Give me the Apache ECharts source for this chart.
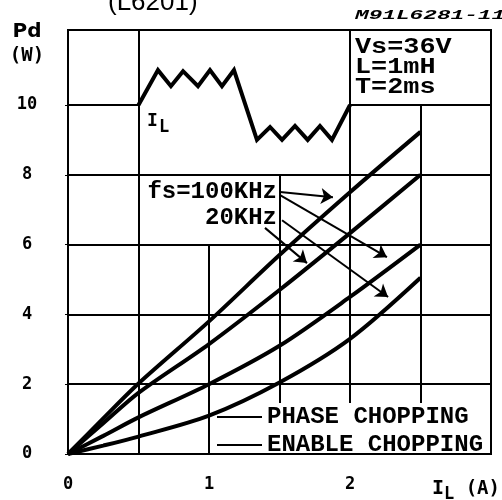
<!DOCTYPE html>
<html>
<head>
<meta charset="utf-8">
<script src="https://cdn.jsdelivr.net/npm/echarts@6/dist/echarts.min.js"></script>
<style>html,body{margin:0;padding:0;background:#fff}#c{width:502px;height:500px}</style>
</head>
<body>
<div id="c"></div>
<script>
// ---- data ----
const xTicks = [0, 1, 2];
const yTicks = [0, 2, 4, 6, 8, 10];
const curveX = [0, 0.25, 0.5, 1.0, 1.5, 2.0, 2.5];
const enable100k = [0, 1.02, 2.02, 3.8, 5.7, 7.5, 9.23];
const enable20k  = [0, 0.88, 1.75, 3.15, 4.7, 6.33, 8.0];
const phase100k  = [0, 0.52, 1.05, 2.0, 3.1, 4.5, 6.0];
const phase20k   = [0, 0.24, 0.5, 1.1, 2.05, 3.3, 5.05];
// inset current waveform (I_L), in axis units
const waveX = [0.5, 0.638, 0.73, 0.816, 0.922, 1.007, 1.092, 1.177, 1.34, 1.433, 1.518, 1.61, 1.70, 1.787, 1.872, 2.0];
const waveY = [10, 11, 10.54, 10.97, 10.54, 11, 10.54, 11, 9, 9.37, 9, 9.4, 9, 9.4, 9, 10];
// partial grid lines: vertical [x, yFrom, yTo], horizontal [y, xFrom, xTo]
const gridV = [[0.5, 0, 12.15], [1.0, 0, 6], [1.5, 1.46, 8], [2.0, 1.46, 12.15], [2.5, 1.46, 10]];
const gridH = [[10, 0, 0.5], [10, 2.0, 3.0], [8, 0, 3], [6, 0, 3], [4, 0, 3], [2, 0, 3]];
// annotation arrows [x0, y0, x1, y1]
const arrows = [[1.504, 7.51, 1.879, 7.36], [1.504, 7.42, 2.262, 5.64], [1.518, 6.70, 2.27, 4.50], [1.397, 6.48, 1.695, 5.47]];
const xMax = 3, yMax = 12.15;

const pairs = (xs, ys) => xs.map((x, i) => [x, ys[i]]);
const chart = echarts.init(document.getElementById('c'), null, {renderer: 'canvas'});
const mono = 'Liberation Mono';
const tickFont = {fontFamily: 'DejaVu Sans Mono', fontWeight: 'bold', fontSize: 17, color: '#000'};

const curveStyle = {color: '#000', width: 4};
function curve(name, ys) {
  return {type: 'line', name, data: pairs(curveX, ys), smooth: 0.3, showSymbol: false, symbol: 'none',
    lineStyle: curveStyle, itemStyle: {color: '#000'}, z: 5, silent: true};
}

chart.setOption({
  animation: false,
  backgroundColor: '#fff',
  title: {text: '(L6201)', left: 103, top: -15, textStyle: {fontFamily: 'Liberation Sans', fontWeight: 'normal', fontSize: 26, color: '#000'}},
  grid: {left: 68, right: 11, top: 30, bottom: 46, show: true, borderColor: '#000', borderWidth: 2, containLabel: false, outerBoundsMode: 'none'},
  legend: {
    data: ['PHASE CHOPPING', 'ENABLE CHOPPING'], orient: 'vertical', left: 217, top: 405,
    icon: 'rect', itemWidth: 45, itemHeight: 2, itemGap: 4, padding: 0, selectedMode: false,
    textStyle: {fontFamily: mono, fontWeight: 'bold', fontSize: 24, lineHeight: 21, color: '#000'}
  },
  xAxis: {
    type: 'value', min: 0, max: xMax,
    axisLine: {show: true, onZero: false, lineStyle: {color: '#000', width: 2}},
    axisTick: {show: false}, splitLine: {show: false},
    axisLabel: {customValues: xTicks, margin: 22, ...tickFont},
    name: '{i|I}{s|L}{a| (A)}', nameLocation: 'end', nameGap: 9,
    nameTextStyle: {align: 'right', verticalAlign: 'top', padding: [21, 0, 0, 0],
      rich: {i: {fontFamily: 'DejaVu Sans Mono', fontWeight: 'bold', fontSize: 20, color: '#000'},
             s: {fontFamily: 'DejaVu Sans Mono', fontWeight: 'bold', fontSize: 17, color: '#000', padding: [11, 0, 0, 0]},
             a: {fontFamily: 'DejaVu Sans Mono', fontWeight: 'bold', fontSize: 19, color: '#000'}}}
  },
  yAxis: {
    type: 'value', min: 0, max: yMax,
    axisLine: {show: true, onZero: false, lineStyle: {color: '#000', width: 2}},
    axisTick: {show: true, length: 3, customValues: yTicks, lineStyle: {color: '#000', width: 1}},
    splitLine: {show: false},
    axisLabel: {customValues: yTicks, margin: 41, align: 'center', ...tickFont},
    name: '{p|Pd}\n{w|(W)}', nameLocation: 'end', nameGap: 11,
    nameTextStyle: {align: 'center', verticalAlign: 'top', padding: [0, 82, 0, 0],
      rich: {p: {fontFamily: 'DejaVu Sans', fontWeight: 'bold', fontSize: 20, lineHeight: 25, color: '#000'},
             w: {fontFamily: 'DejaVu Sans Mono', fontWeight: 'bold', fontSize: 19, lineHeight: 24, color: '#000'}}}
  },
  series: [
    {type: 'lines', name: 'grid', coordinateSystem: 'cartesian2d', silent: true, z: 1,
      lineStyle: {color: '#000', width: 2, opacity: 1},
      data: gridV.map(v => ({coords: [[v[0], v[1]], [v[0], v[2]]]})).concat(gridH.map(h => ({coords: [[h[1], h[0]], [h[2], h[0]]]})))},
    {type: 'line', name: 'IL waveform', data: pairs(waveX, waveY), showSymbol: false, symbol: 'none',
      lineStyle: {color: '#000', width: 4, join: 'miter'}, z: 4, silent: true},
    {type: 'lines', name: 'arrows', coordinateSystem: 'cartesian2d', silent: true, z: 6,
      symbol: ['none', 'arrow'], symbolSize: [9, 12],
      lineStyle: {color: '#000', width: 2, opacity: 1}, itemStyle: {color: '#000'},
      data: arrows.map(a => ({coords: [[a[0], a[1]], [a[2], a[3]]]}))},
    curve('ENABLE CHOPPING', enable100k),
    curve('ENABLE CHOPPING', enable20k),
    curve('PHASE CHOPPING', phase100k),
    curve('PHASE CHOPPING', phase20k)
  ],
  graphic: [
    {type: 'text', left: 355, top: 9, scaleX: 1.75, style: {text: 'M91L6281-11', font: 'italic bold 13px "Liberation Mono"', fill: '#000'}},
    {type: 'text', x: 355, y: 37, scaleX: 1.22, style: {text: 'Vs=36V\nL=1mH\nT=2ms', font: 'bold 22px "Liberation Mono"', lineHeight: 20, fill: '#000'}},
    {type: 'text', x: 277, y: 192, style: {text: 'fs=100KHz', font: 'bold 24px "Liberation Mono"', fill: '#000', align: 'right', verticalAlign: 'middle'}},
    {type: 'text', x: 277, y: 218, style: {text: '20KHz', font: 'bold 24px "Liberation Mono"', fill: '#000', align: 'right', verticalAlign: 'middle'}},
    {type: 'text', x: 147, y: 112, style: {text: 'I', font: 'bold 18px "DejaVu Sans Mono"', fill: '#000'}},
    {type: 'text', x: 159, y: 119, style: {text: 'L', font: 'bold 17px "DejaVu Sans Mono"', fill: '#000'}}
  ]
});
</script>
</body>
</html>
